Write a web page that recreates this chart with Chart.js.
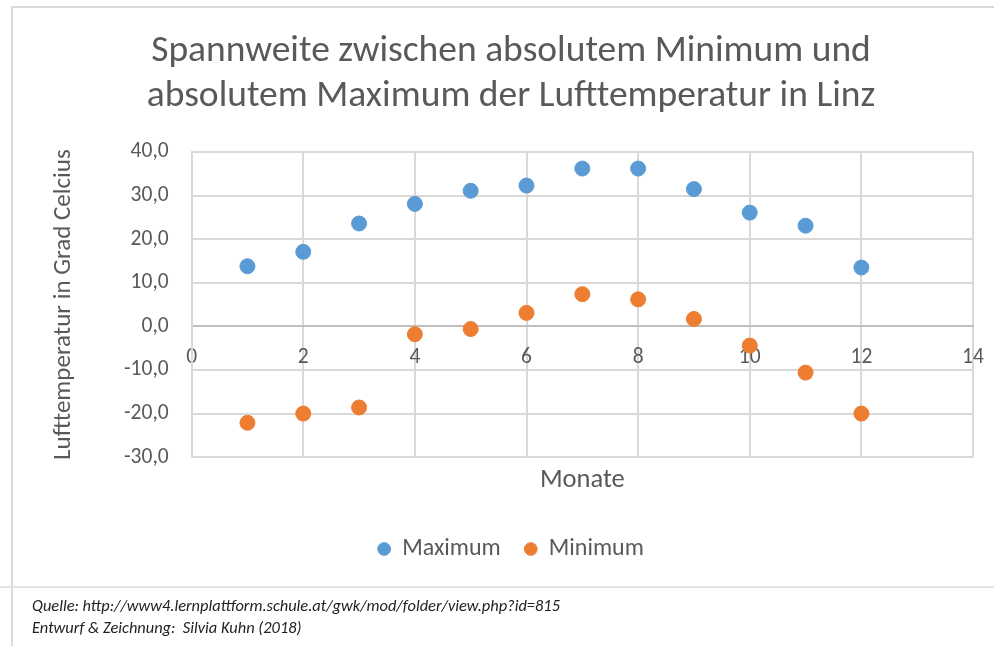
<!DOCTYPE html>
<html>
<head>
<meta charset="utf-8">
<script src="https://cdn.jsdelivr.net/npm/chart.js@4"></script>
<style>
  body { margin: 0; background: #fff; }
  #wrap { position: relative; width: 994px; height: 646px; }
  #frameTop { position: absolute; left: 12px; top: 6px; width: 982px; height: 2px; background: #d9d9d9; }
  #frameLeft { position: absolute; left: 11px; top: 6px; width: 2px; height: 640px; background: #d9d9d9; }
  #sep { position: absolute; left: 0; top: 586px; width: 994px; height: 2px; background: #e3e3e3; }
  .note { position: absolute; left: 32px; font: italic 16.4px Carlito, Lato, sans-serif; color: #222; white-space: nowrap; }
</style>
</head>
<body>
<div id="wrap">
  <canvas id="rangeChart" width="994" height="646"></canvas>
  <div id="frameTop"></div>
  <div id="frameLeft"></div>
  <div id="sep"></div>
  <div class="note" style="top:595px">Quelle: http://www4.lernplattform.schule.at/gwk/mod/folder/view.php?id=815</div>
  <div class="note" style="top:617px">Entwurf &amp; Zeichnung:&nbsp; Silvia Kuhn (2018)</div>
</div>
<script>
const months = [1, 2, 3, 4, 5, 6, 7, 8, 9, 10, 11, 12];
const maxTemps = [13.8, 17.1, 23.6, 28.1, 31.1, 32.3, 36.2, 36.2, 31.5, 26.1, 23.1, 13.5];
const minTemps = [-22.1, -20.0, -18.6, -1.8, -0.6, 3.1, 7.4, 6.2, 1.7, -4.4, -10.6, -20.0];

const FONT = 'Carlito, Lato, sans-serif';
const GREY = '#595959';

const ctx = document.getElementById('rangeChart').getContext('2d');

new Chart(ctx, {
  type: 'scatter',
  data: {
    datasets: [{
      label: 'Maximum',
      data: months.map((m, i) => ({ x: m, y: maxTemps[i] })),
      backgroundColor: '#5b9bd5',
      borderColor: '#5b9bd5',
      pointRadius: 7.5
    }, {
      label: 'Minimum',
      data: months.map((m, i) => ({ x: m, y: minTemps[i] })),
      backgroundColor: '#ed7d31',
      borderColor: '#ed7d31',
      pointRadius: 7.5
    }]
  },
  options: {
    responsive: false,
    animation: false,
    layout: { padding: { top: 14, left: 49, right: 21, bottom: 75 } },
    plugins: {
      title: {
        display: true,
        text: ['Spannweite zwischen absolutem Minimum und', 'absolutem Maximum der Lufttemperatur in Linz'],
        color: GREY,
        font: { family: FONT, size: 37.5, weight: 'normal', lineHeight: 1.2 },
        padding: { top: 15.5, bottom: 32.5 }
      },
      legend: {
        position: 'bottom',
        labels: {
          usePointStyle: true,
          pointStyle: 'circle',
          boxWidth: 12,
          boxHeight: 9,
          color: GREY,
          padding: 24,
          font: { family: FONT, size: 24 }
        }
      },
      tooltip: { enabled: false }
    },
    scales: {
      x: {
        type: 'linear',
        position: { y: 0 },
        min: 0,
        max: 14,
        ticks: { stepSize: 2, color: GREY, padding: 0, font: { family: FONT, size: 21.5 } },
        grid: { color: '#d9d9d9', lineWidth: 2, drawTicks: true, tickLength: 18, tickColor: 'rgba(0,0,0,0)' },
        border: { color: '#bfbfbf', width: 2 }
      },
      x2: {
        type: 'linear',
        position: 'bottom',
        min: 0,
        max: 14,
        ticks: { display: false },
        grid: { display: false, drawTicks: false },
        border: { display: false },
        title: {
          display: true,
          text: 'Monate',
          color: GREY,
          font: { family: FONT, size: 26.5 },
          padding: { top: 7, bottom: 17 }
        }
      },
      y: {
        min: -30,
        max: 40,
        ticks: {
          stepSize: 10,
          color: GREY,
          padding: 23,
          font: { family: FONT, size: 21.5 },
          callback: v => v.toFixed(1).replace('.', ',')
        },
        grid: { color: '#d9d9d9', lineWidth: 2, drawTicks: false },
        border: { color: '#d9d9d9', width: 2 },
        title: {
          display: true,
          text: 'Lufttemperatur in Grad Celcius',
          color: GREY,
          font: { family: FONT, size: 25 },
          padding: { top: 0, bottom: 22 }
        }
      }
    }
  }
});
</script>
</body>
</html>
